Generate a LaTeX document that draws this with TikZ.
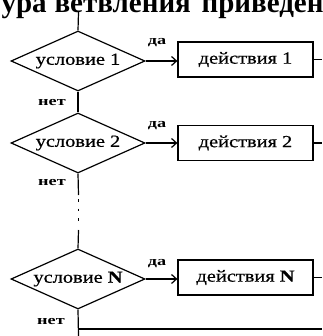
\documentclass[tikz,border=0pt]{standalone}
\usepackage{fontspec}
\setmainfont{Liberation Serif}
\newfontfamily\diafont[FakeStretch=1.2,FakeBold=0.6]{Liberation Serif}
\newfontfamily\lblfont[FakeStretch=1.4]{Liberation Serif}
\usetikzlibrary{shapes.geometric,arrows.meta}
\begin{document}
\begin{tikzpicture}[x=1pt,y=-1pt,line width=1.2pt,
  cond/.style={draw,diamond,aspect=2.23,minimum width=134pt,minimum height=60pt,inner sep=0pt,font=\diafont\fontsize{17}{19}\selectfont},
  act/.style={draw,rectangle,minimum width=135pt,minimum height=35pt,inner sep=0pt,font=\diafont\fontsize{17}{19}\selectfont},
  lbl/.style={inner sep=0pt,font=\lblfont\bfseries\fontsize{13}{14}\selectfont},
  yes/.style={-{Straight Barb[length=5pt,width=9pt]}}]
\useasboundingbox (0,0) rectangle (322,336);
\clip (0,0) rectangle (322,336);
\node[anchor=base west,inner sep=0pt,font=\bfseries\fontsize{29}{31}\selectfont] (head) at (1,12.5) {\makebox[53pt][l]{ура}\makebox[147pt][l]{ветвления}приведен};
\coordinate (top) at (78.5,12);
\node[cond] (d1) at (78,61) {условие 1};
\node[cond] (d2) at (78,143) {условие 2};
\node[cond] (dn) at (78,279) {условие \textbf{N}};
\node[act] (a1) at (245.5,59.5) {действия 1};
\node[act] (a2) at (245.5,143) {действия 2};
\node[act] (an) at (245.5,277.5) {действия \textbf{N}};
\coordinate (e1) at (322,59.5);
\coordinate (e2) at (322,143);
\coordinate (en) at (322,277.5);
\coordinate (c1) at (78.5,195);
\coordinate (c1b) at (78.5,199);
\coordinate (c2b) at (78.5,226);
\coordinate (c2) at (78.5,230);
\coordinate (h0) at (78.5,329);
\coordinate (h1) at (322,329);
\coordinate (bot) at (78.5,336);
\draw (top) -- (d1.north);
\draw (d1.south) -- (d2.north);
\draw (d2.south) -- (c1);
\draw[dash pattern=on 2.5pt off 7pt] (c1b) -- (c2b);
\draw (c2) -- (dn.north);
\draw (dn.south) -- (bot);
\draw (h0) -- (h1);
\draw[yes] (d1.east) -- (a1.west |- d1.east);
\draw[yes] (d2.east) -- (a2.west |- d2.east);
\draw[yes] (dn.east) -- (an.west |- dn.east);
\draw (a1.east) -- (e1);
\draw (a2.east) -- (e2);
\draw (an.east) -- (en);
\node[lbl] (y1) at (157,43) {да};
\node[lbl] (y2) at (157,126) {да};
\node[lbl] (yn) at (157,264) {да};
\node[lbl] (n1) at (52,103) {нет};
\node[lbl] (n2) at (52,183) {нет};
\node[lbl] (nn) at (51,321) {нет};
\end{tikzpicture}
\end{document}
